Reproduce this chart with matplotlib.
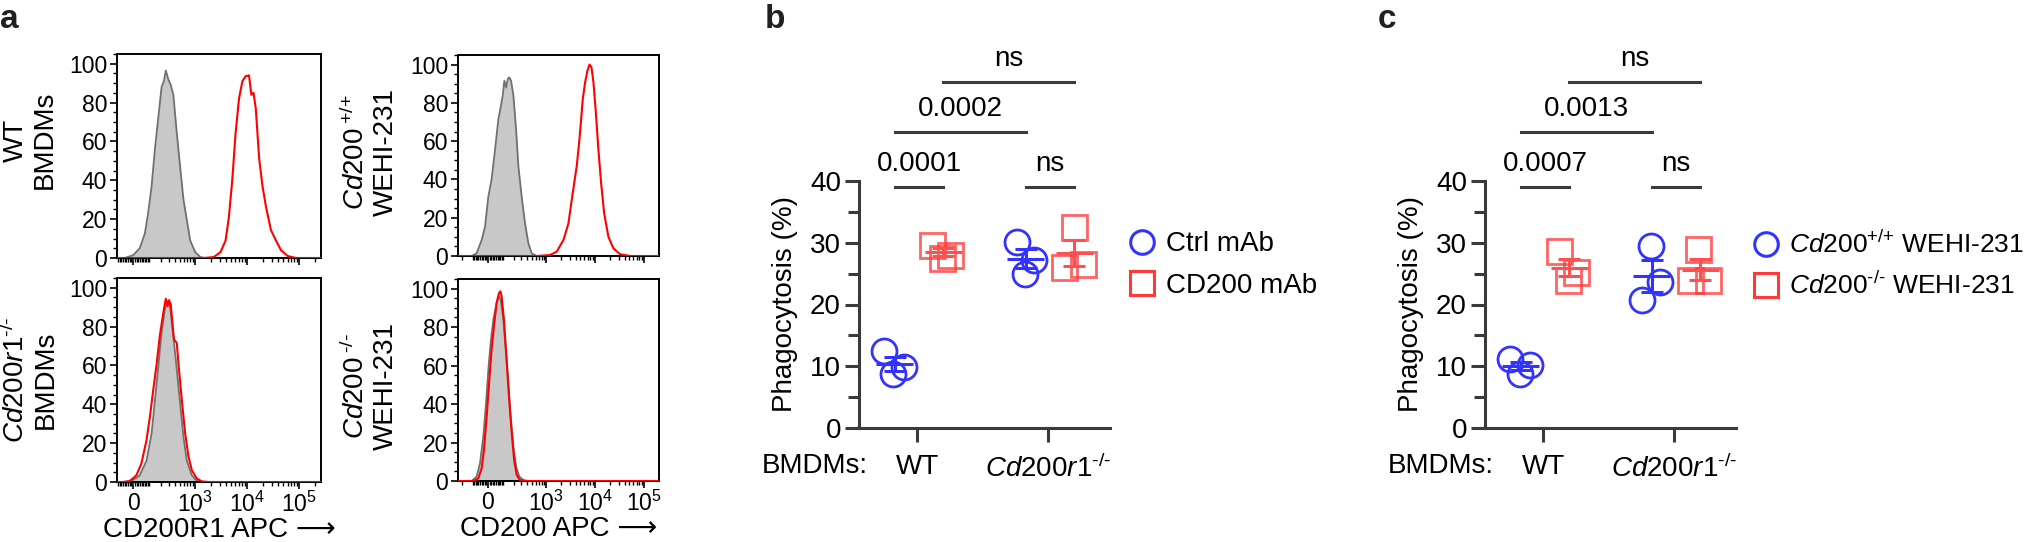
import numpy as np
import matplotlib
matplotlib.use('Agg')
import matplotlib.pyplot as plt
from matplotlib.lines import Line2D
from matplotlib.ticker import FixedLocator, MultipleLocator

plt.rcParams['font.family'] = ['Liberation Sans', 'DejaVu Sans']
plt.rcParams['mathtext.fontset'] = 'custom'
plt.rcParams['mathtext.rm'] = 'Liberation Sans'
plt.rcParams['mathtext.it'] = 'Liberation Sans:italic'
plt.rcParams['mathtext.bf'] = 'Liberation Sans:bold'

# ---- panel a: flow histograms (fluorescence, % of max) ----
# WT BMDMs, CD200R1 stain
wt_bmdm_iso_x = [-60, -49, 0, 39, 71, 93, 119, 146, 187, 211, 237, 261, 295, 332, 375, 439,
                 512, 597, 694, 807, 1011, 1266, 1585]
wt_bmdm_iso_y = [0, 0, 1.4, 5, 12.6, 23, 37, 56, 77, 88, 91, 96.5, 92, 89, 84, 64.5,
                 47, 30, 19.5, 9, 3, 0.5, 0]
wt_bmdm_ab_x = [-100, 1470, 2300, 3090, 3870, 4480, 5200, 6040, 7010, 8130, 9430, 10900, 12100,
                13300, 14700, 17100, 19800, 23000, 28700, 35900, 44800, 60400, 87600, 262144]
wt_bmdm_ab_y = [0, 0, 0.5, 3, 9, 21, 40, 64.5, 82, 91, 93.6, 94, 84,
                85, 77, 51, 37, 26.5, 14.4, 9, 4, 1, 0, 0]

# Cd200r1-/- BMDMs
ko_bmdm_iso_x = [-60, -49, 0, 39, 82, 119, 146, 177, 211, 250, 281, 320, 375, 439, 512, 597,
                 694, 869, 1090, 1470]
ko_bmdm_iso_y = [0, 0, 1, 3.4, 11, 25, 42, 59.5, 77, 89, 93, 90.5, 75, 58, 40.5, 23,
                 11, 3.4, 0.5, 0]
ko_bmdm_ab_x = [-100, -60, -19, 19, 49, 82, 106, 132, 162, 194, 219, 237, 261, 285, 305, 332,
                364, 386, 439, 474, 554, 643, 748, 869, 1090, 1365, 1835, 262144]
ko_bmdm_ab_y = [0, 0, 0.5, 3.4, 9.5, 21.5, 33.6, 47.4, 61, 76, 83.6, 88.8, 94.3, 90.5, 93.6, 91.4,
                80, 73.3, 71.6, 61, 42, 25, 13, 6, 1.7, 0.3, 0, 0]

# Cd200+/+ WEHI-231, CD200 stain
wt_wehi_iso_x = [-110, -73, -39, -18, 2, 22, 44, 66, 82, 97, 110, 124, 139, 153, 170, 195,
                 226, 255, 303, 359, 423, 498, 634]
wt_wehi_iso_y = [0, 1.4, 8.4, 15.4, 31, 40, 55.7, 71.5, 77.6, 83.7, 91.6, 88, 92.5, 93.3, 91.6, 83.7,
                 66, 47, 31, 17, 6.7, 1.4, 0]
wt_wehi_ab_x = [-250, 634, 1196, 1640, 2250, 2840, 3480, 4200, 4770, 5580, 6220, 6940, 7630,
                8380, 9200, 10300, 11600, 13200, 15200, 18600, 23500, 32200, 51600, 200000]
wt_wehi_ab_y = [0, 0, 0.5, 2.3, 8.4, 17, 33, 47, 61, 82, 90.7, 96.8, 100,
                98.6, 90.7, 75, 55.7, 38, 22.4, 10, 4, 0.9, 0, 0]

# Cd200-/- WEHI-231
ko_wehi_iso_x = [-110, -73, -50, -29, -12, 2, 16, 33, 54, 70, 82, 102, 124, 144, 166, 195,
                 226, 268, 330, 423]
ko_wehi_iso_y = [0, 2.3, 9.2, 23, 40.5, 57.8, 71.7, 83.9, 92.5, 96, 94.3, 83.9, 66.5, 50.9, 33.5, 17.9,
                 7.5, 2.3, 0.5, 0]
ko_wehi_ab_x = [-250, -97, -61, -39, -25, -8, 8, 22, 39, 54, 70, 80, 89, 107, 129, 150,
                177, 203, 234, 277, 359, 200000]
ko_wehi_ab_y = [0, 0, 1.4, 6.6, 16, 33.5, 52.6, 68.2, 82, 92.5, 97.7, 98.6, 96, 83.9, 63, 43.9,
                24.8, 10.9, 3.1, 0.5, 0, 0]

flow_ticks = [0, 1e3, 1e4, 1e5]
flow_ticklabels = ['0', r'$\mathregular{10^3}$', r'$\mathregular{10^4}$', r'$\mathregular{10^5}$']

# ---- panels b, c: phagocytosis (%) ----
bmdm_labels = ['WT', r'$\mathit{Cd200r1}^{\text{-/-}}$']

b_legend = ['Ctrl mAb', 'CD200 mAb']
b_ctrl_wt = [12.5, 8.8, 9.9]
b_cd200_wt = [29.7, 27.6, 28.0]
b_ctrl_ko = [30.1, 27.2, 25.0]
b_cd200_ko = [32.6, 26.0, 26.6]
b_pvals = ['0.0001', 'ns', '0.0002', 'ns']

c_legend = [r'$\mathit{Cd200}^{\text{+/+}}$ WEHI-231', r'$\mathit{Cd200}^{\text{-/-}}$ WEHI-231']
c_wt_on_wt = [11.1, 8.7, 10.25]
c_ko_on_wt = [28.6, 25.3, 23.9]
c_wt_on_ko = [29.5, 23.6, 20.7]
c_ko_on_ko = [29.0, 23.9, 23.9]
c_pvals = ['0.0007', 'ns', '0.0013', 'ns']

BLUE = '#3333ff'
RED = '#ff3838'
AXC = '#3a3a3a'
W, H = 2033, 542

fig = plt.figure(figsize=(W / 100, H / 100), dpi=100)


def box(l, t, r, b):
    return [l / W, 1 - b / H, (r - l) / W, (b - t) / H]


def flow_panel(rect, gx, gy, rx, ry, xlim, bottom):
    ax = fig.add_axes(box(*rect))
    ax.set_xscale('asinh', linear_width=130)
    ax.fill_between(gx, gy, color='#c8c8c8', lw=0)
    ax.plot(gx, gy, color='#707070', lw=1.3)
    ax.plot(rx, ry, color='#ff0000', lw=1.5, zorder=3)
    ax.set_xlim(*xlim)
    ax.set_ylim(0, 105)
    minor = [m * 10 ** e for e in (1, 2, 3, 4) for m in range(1, 10)] + [2e5]
    minor += [-m * 10 ** e for e in (1, 2) for m in range(1, 10)]
    minor = [v for v in minor if xlim[0] < v < xlim[1] and v not in flow_ticks]
    ax.xaxis.set_major_locator(FixedLocator(flow_ticks))
    ax.xaxis.set_minor_locator(FixedLocator(minor))
    if bottom:
        ax.set_xticklabels(flow_ticklabels)
    else:
        ax.set_xticklabels([])
    ax.set_yticks([0, 20, 40, 60, 80, 100])
    ax.yaxis.set_minor_locator(MultipleLocator(5))
    ax.tick_params(which='major', length=5, width=1.2, labelsize=16.5, pad=2)
    ax.tick_params(which='minor', length=3, width=1.0)
    for s in ax.spines.values():
        s.set_linewidth(1.4)
    return ax


ax1 = flow_panel((117, 54, 321, 258), wt_bmdm_iso_x, wt_bmdm_iso_y, wt_bmdm_ab_x, wt_bmdm_ab_y,
                 (-100, 262144), False)
ax2 = flow_panel((458, 55, 659, 256), wt_wehi_iso_x, wt_wehi_iso_y, wt_wehi_ab_x, wt_wehi_ab_y,
                 (-250, 200000), False)
ax3 = flow_panel((117, 278, 321, 482), ko_bmdm_iso_x, ko_bmdm_iso_y, ko_bmdm_ab_x, ko_bmdm_ab_y,
                 (-100, 262144), True)
ax4 = flow_panel((458, 279, 659, 481), ko_wehi_iso_x, ko_wehi_iso_y, ko_wehi_ab_x, ko_wehi_ab_y,
                 (-250, 200000), True)

ax3.set_xlabel('CD200R1 APC \u27f6', fontsize=20, labelpad=0)
ax4.set_xlabel('CD200 APC \u27f6', fontsize=20, labelpad=0)

row_labels = [(ax1, 'WT\nBMDMs', 30, 140),
              (ax2, r'$\mathit{Cd200}^{\;\text{+/+}}$' + '\nWEHI-231', 370, 152),
              (ax3, r'$\mathit{Cd200r1}^{\text{-/-}}$' + '\nBMDMs', 30, 380),
              (ax4, r'$\mathit{Cd200}^{\;\text{-/-}}$' + '\nWEHI-231', 370, 386)]
for ax, txt, cx, cy in row_labels:
    fig.text(cx / W, 1 - cy / H, txt, rotation=90, ha='center', va='center',
             fontsize=20, multialignment='center', linespacing=1.15)

# ---- dot plots ----
OFF = [-0.17, 0.2]
JIT_B = [[-0.084, -0.015, 0.069], [-0.084, -0.008, 0.053],
         [-0.069, 0.061, -0.008], [0.0, -0.076, 0.069]]
JIT_C = [[-0.084, -0.008, 0.069], [-0.076, 0.053, -0.008],
         [-0.008, 0.061, -0.076], [-0.015, -0.076, 0.061]]


def dot_panel(left, groups, jit, pvals, legend_labels, legend_x, legend_fs):
    ax = fig.add_axes(box(left, 181, left + 251, 428))
    centers = []
    for gi, vals in enumerate(groups):
        cat = gi // 2
        kind = gi % 2
        xc = cat + OFF[kind]
        centers.append(xc)
        xs = [xc + j for j in jit[gi]]
        if kind == 0:
            ax.plot(xs, vals, 'o', ms=18, mfc='none', mec=BLUE, mew=2.0, zorder=3)
            col = BLUE
        else:
            ax.plot(xs, vals, 's', ms=18, mfc='none', mec=RED, mew=2.0, alpha=0.78, zorder=3)
            col = '#ff5050'
        m = np.mean(vals)
        sem = np.std(vals, ddof=1) / np.sqrt(len(vals))
        ax.hlines(m, xc - 0.14, xc + 0.14, color=col, lw=2.2, zorder=4)
        ax.errorbar(xc, m, yerr=sem, fmt='none', ecolor=col, elinewidth=2.2,
                    capsize=8, capthick=2.2, zorder=4)

    bars = [(0, 1, 39.0), (2, 3, 39.0), (0, 2, 47.9), (1, 3, 56.0)]
    for (g1, g2, yb), lab in zip(bars, pvals):
        ax.plot([centers[g1], centers[g2]], [yb, yb], color=AXC, lw=2.2, clip_on=False)
        ax.text((centers[g1] + centers[g2]) / 2, yb + 2.7, lab, ha='center', va='baseline',
                fontsize=20)

    ax.set_xlim(-0.443, 1.473)
    ax.set_ylim(0, 40)
    ax.set_yticks([0, 10, 20, 30, 40])
    ax.yaxis.set_minor_locator(MultipleLocator(5))
    ax.set_xticks([0, 1])
    ax.set_xticklabels(bmdm_labels)
    for s in ('top', 'right'):
        ax.spines[s].set_visible(False)
    for s in ('left', 'bottom'):
        ax.spines[s].set_linewidth(2.2)
        ax.spines[s].set_color(AXC)
    ax.tick_params(which='major', length=10, width=2.2, color=AXC, labelsize=20, pad=3)
    ax.tick_params(axis='x', pad=9)
    ax.tick_params(which='minor', length=8, width=2.2, color=AXC)
    ax.set_ylabel('Phagocytosis (%)', fontsize=20)
    ax.yaxis.set_label_coords(-0.295, 0.5)
    ax.yaxis.label.set_va('center')
    ax.text(0.035, -0.154, 'BMDMs:', transform=ax.transAxes, ha='right', va='center',
            fontsize=20)

    handles = [Line2D([], [], marker='o', ls='none', ms=17, mfc='none', mec=BLUE, mew=2.2),
               Line2D([], [], marker='s', ls='none', ms=17, mfc='none', mec=RED, mew=2.2)]
    ax.legend(handles, legend_labels, loc='center left', frameon=False, fontsize=legend_fs,
              bbox_to_anchor=(legend_x / W, 1 - 265 / H), bbox_transform=fig.transFigure,
              borderpad=0, borderaxespad=0, handlelength=1.0, handletextpad=0.35,
              labelspacing=0.55)
    return ax


dot_panel(859, [b_ctrl_wt, b_cd200_wt, b_ctrl_ko, b_cd200_ko], JIT_B, b_pvals, b_legend, 1128, 20)
dot_panel(1485, [c_wt_on_wt, c_ko_on_wt, c_wt_on_ko, c_ko_on_ko], JIT_C, c_pvals, c_legend,
          1753, 19)

for x, lab in ((0, 'a'), (765, 'b'), (1378, 'c')):
    fig.text(x / W, 1 - 28 / H, lab, fontsize=24, fontweight='bold', color='#231f20',
             va='baseline')

fig.savefig('out.png', dpi=100)
